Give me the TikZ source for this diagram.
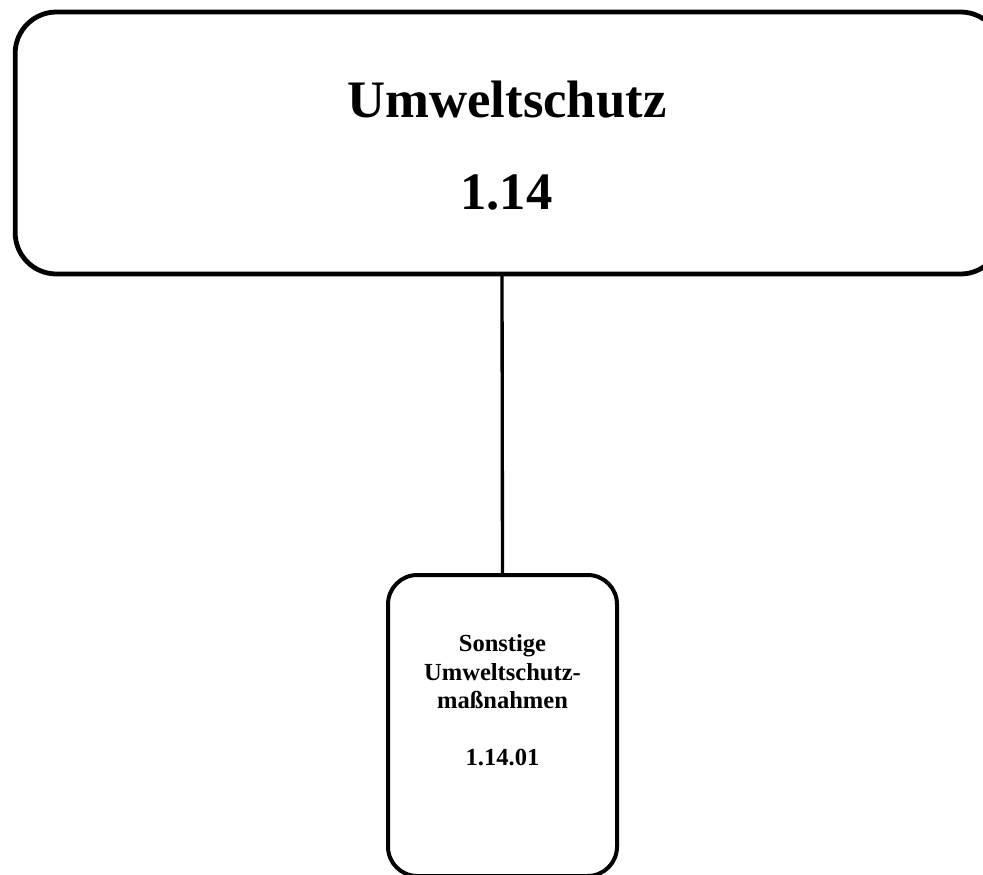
\documentclass[tikz,border=0pt]{standalone}
\usepackage{fontspec}
\setmainfont{Liberation Serif}
\begin{document}
\begin{tikzpicture}[x=0.75pt,y=-0.75pt,
  bigbox/.style={draw=black,line width=3.6pt,rounded corners=31pt,minimum width=740pt,minimum height=196.5pt,inner sep=0pt},
  smallbox/.style={draw=black,line width=3pt,rounded corners=22pt,minimum width=171.75pt,minimum height=225.75pt,inner sep=0pt},
  link/.style={draw=black,line width=2.5pt},
  bigtxt/.style={font=\fontsize{39.5}{46}\selectfont\bfseries,anchor=base,inner sep=0pt},
  smalltxt/.style={font=\fontsize{18.4}{21.75}\selectfont\bfseries,anchor=base,inner sep=0pt,align=center}]
\useasboundingbox (0,0) rectangle (983,875);
\clip (0,0) rectangle (983,875);
\node[bigbox] (top) at (508.5,143) {};
\node[smallbox] (sub) at (502.5,725.5) {};
\draw[link] (502,274) coordinate (topanchor) -- (sub.north);
\node[bigtxt] (t1) at (507,117) {Umweltschutz};
\node[bigtxt] (t2) at (506.5,209.5) {1.14};
\node[smalltxt] (s1) at (502.5,651) {Sonstige};
\node[smalltxt] (s2) at (502.5,680) {Umweltschutz-};
\node[smalltxt] (s3) at (502.5,708) {maßnahmen};
\node[smalltxt] (s4) at (502.5,765) {1.14.01};
\end{tikzpicture}
\end{document}
